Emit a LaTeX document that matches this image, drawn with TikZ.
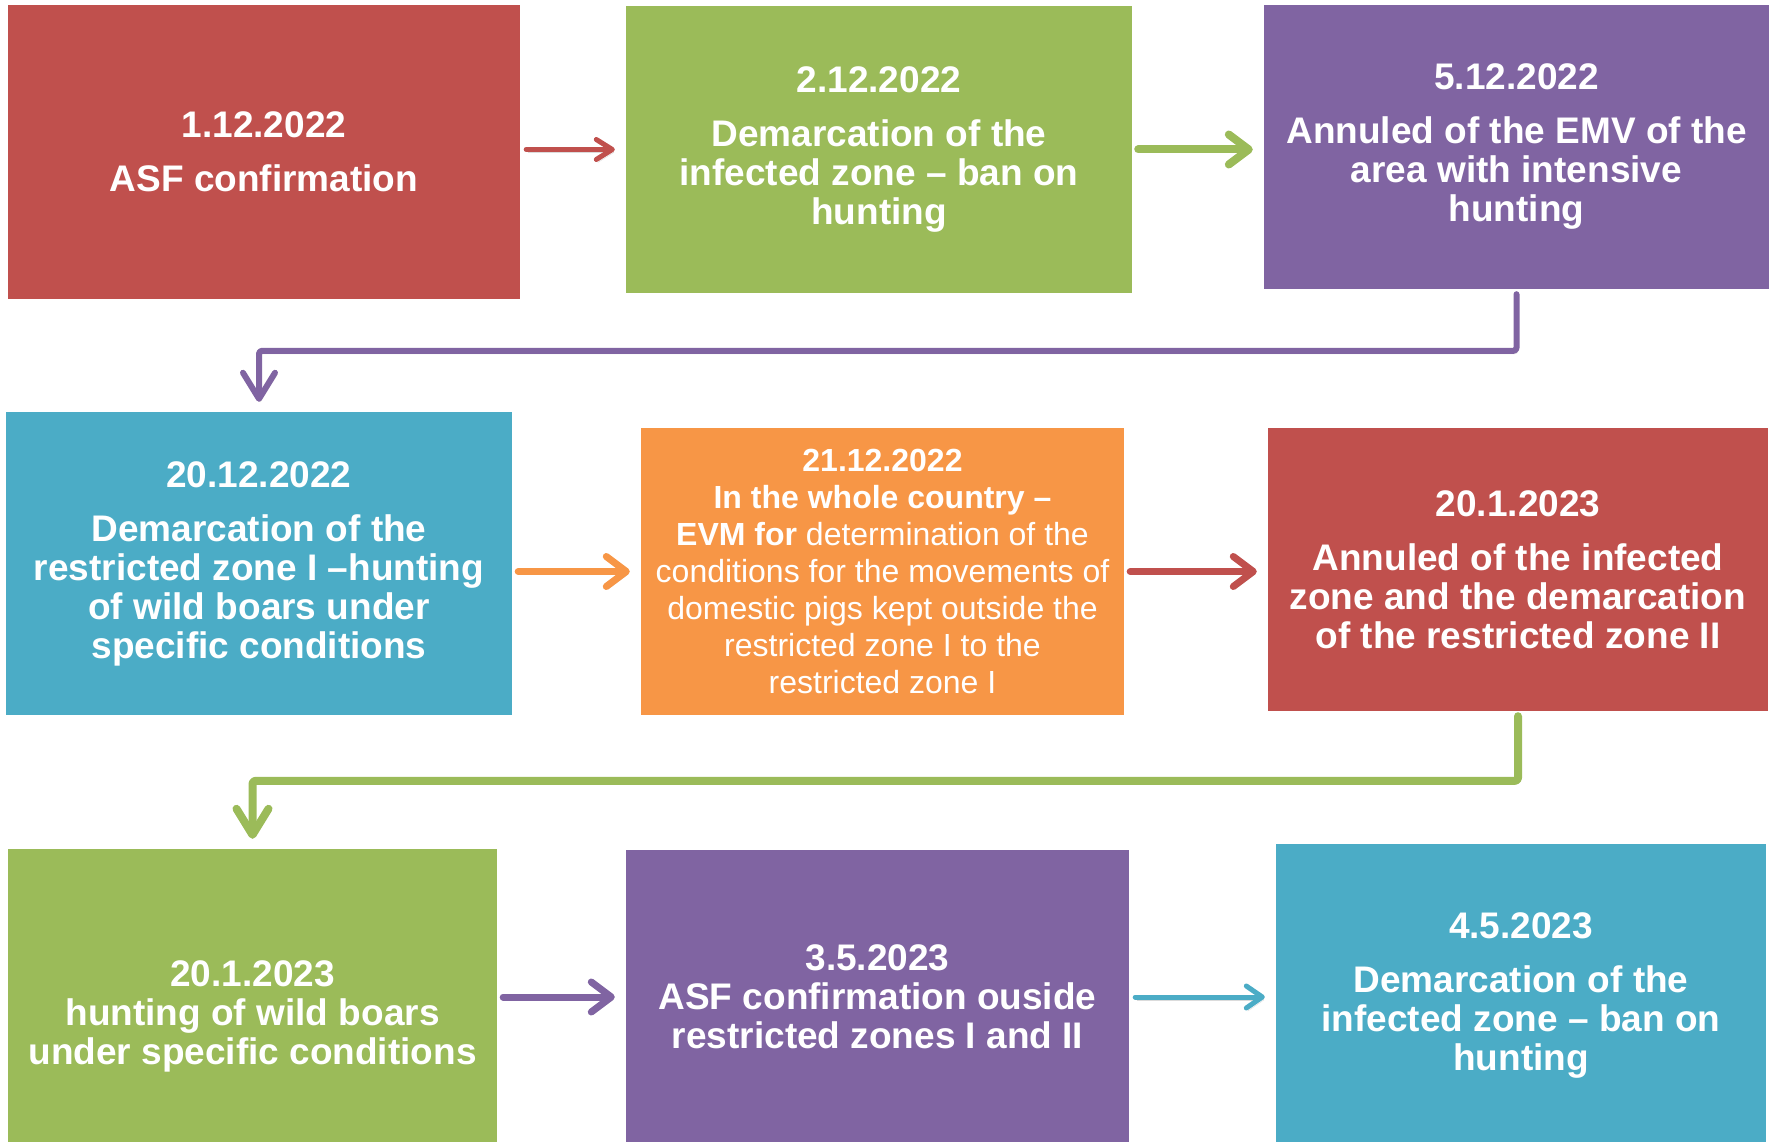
\documentclass[tikz,border=0pt]{standalone}
\usepackage{fontspec}
\setmainfont{Liberation Sans}
\usepackage{tikz}
\usetikzlibrary{arrows.meta,positioning,calc}
\definecolor{asfred}{HTML}{C0504D}
\definecolor{asfgreen}{HTML}{9BBB59}
\definecolor{asfviolet}{HTML}{8064A2}
\definecolor{asfblue}{HTML}{4BACC6}
\definecolor{asforange}{HTML}{F79646}
\tikzset{
  every node/.style={align=center,text=white,inner sep=0pt},
  stage/.style={fill=#1,draw=none,font=\bfseries\fontsize{37}{39}\selectfont},
  link/.style={draw=#1,line width=7pt,line cap=round,line join=round,
    -{Straight Barb[length=20pt,width=30pt,round]},
    shorten <=6pt,shorten >=11pt,
    preaction={draw=black!14,transform canvas={shift={(1.5pt,-3pt)}}}},
  elbow/.style={link=#1,rounded corners=3pt,
    -{Straight Barb[length=26pt,width=32pt,round]},
    shorten <=5pt,shorten >=10pt},
}

\begin{document}
\begin{tikzpicture}[x=1pt,y=-1pt]
  \path[use as bounding box,clip] (0,0) rectangle (1775,1142);
  % first row
  \node[stage=asfred,minimum width=512pt,minimum height=294pt] (conf) at (264,152)
    {1.12.2022\\[15pt]ASF confirmation};
  \node[stage=asfgreen,minimum width=506pt,minimum height=287pt] (demarc) at (879,149.5)
    {2.12.2022\\[15pt]Demarcation of the\\infected zone – ban on\\hunting};
  \node[stage=asfviolet,minimum width=505pt,minimum height=284pt] (annul) at (1516.5,147)
    {5.12.2022\\[15pt]Annuled of the EMV of the\\area with intensive\\hunting};
  % second row
  \node[stage=asfblue,minimum width=506pt,minimum height=303pt] (restrict) at (259,563.5)
    {20.12.2022\\[15pt]Demarcation of the\\restricted zone I –hunting\\of wild boars under\\specific conditions};
  \node[stage=asforange,minimum width=483pt,minimum height=287pt,
        font=\fontsize{32}{37}\selectfont] (evm) at (882.5,571.5)
    {\textbf{21.12.2022}\\\textbf{In the whole country –}\\\textbf{EVM for} determination of the\\conditions for the movements of\\domestic pigs kept outside the\\restricted zone I to the\\restricted zone I};
  \node[stage=asfred,minimum width=500pt,minimum height=283pt] (zoneII) at (1518,569.5)
    {20.1.2023\\[15pt]Annuled of the infected\\zone and the demarcation\\of the restricted zone II};
  % third row
  \node[stage=asfgreen,minimum width=489pt,minimum height=334pt] (hunt) at (252.5,1016)
    {20.1.2023\\hunting of wild boars\\under specific conditions};
  \node[stage=asfviolet,minimum width=503pt,minimum height=294pt] (outside) at (877.5,997)
    {3.5.2023\\ASF confirmation ouside\\restricted zones I and II};
  \node[stage=asfblue,minimum width=490pt,minimum height=302pt] (infect) at (1521,995)
    {4.5.2023\\[15pt]Demarcation of the\\infected zone – ban on\\hunting};

  \coordinate (bendA) at ($(restrict.north)+(0,-61)$);
  \coordinate (bendB) at ($(hunt.north)+(0,-68)$);

  \draw[link=asfred,line width=5pt,-{Straight Barb[length=16pt,width=20pt,round]}]
    (conf.east |- demarc.west) -- (demarc.west);
  \draw[link=asfgreen,line width=8pt] (demarc.east) -- (demarc.east -| annul.west);
  \draw[elbow=asfviolet,line width=6pt] (annul.south) |- (bendA) -- (restrict.north);
  \draw[link=asforange] (restrict.east |- evm.west) -- (evm.west);
  \draw[link=asfred] (evm.east) -- (evm.east -| zoneII.west);
  \draw[elbow=asfgreen,line width=8pt] (zoneII.south) |- (bendB) -- (hunt.north);
  \draw[link=asfviolet] (hunt.east |- outside.west) -- (outside.west);
  \draw[link=asfblue,line width=5pt,-{Straight Barb[length=16pt,width=22pt,round]}]
    (outside.east) -- (outside.east -| infect.west);
\end{tikzpicture}
\end{document}
